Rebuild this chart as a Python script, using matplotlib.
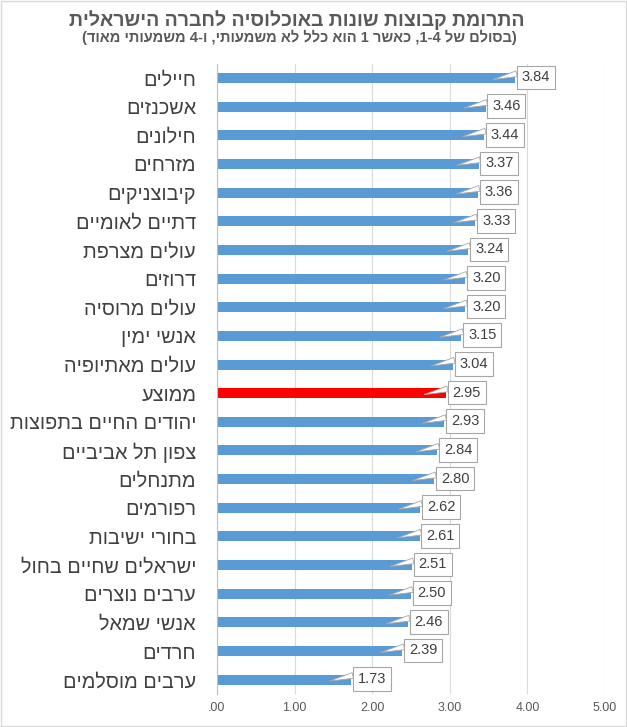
import re
import matplotlib
matplotlib.use("Agg")
import matplotlib.pyplot as plt
from matplotlib.patches import Rectangle

plt.rcParams['font.family'] = ['Liberation Sans', 'DejaVu Sans']

# data (top to bottom as in the chart)
groups = ["חיילים", "אשכנזים", "חילונים", "מזרחים", "קיבוצניקים", "דתיים לאומיים",
          "עולים מצרפת", "דרוזים", "עולים מרוסיה", "אנשי ימין", "עולים מאתיופיה",
          "ממוצע", "יהודים החיים בתפוצות", "צפון תל אביביים", "מתנחלים", "רפורמים",
          "בחורי ישיבות", "ישראלים שחיים בחול", "ערבים נוצרים", "אנשי שמאל",
          "חרדים", "ערבים מוסלמים"]
scores = [3.84, 3.46, 3.44, 3.37, 3.36, 3.33, 3.24, 3.20, 3.20, 3.15, 3.04,
          2.95, 2.93, 2.84, 2.80, 2.62, 2.61, 2.51, 2.50, 2.46, 2.39, 1.73]
highlight = "ממוצע"
x_ticks = [0, 1, 2, 3, 4, 5]
x_tick_labels = [".00", "1.00", "2.00", "3.00", "4.00", "5.00"]

title = "התרומת קבוצות שונות באוכלוסיה לחברה הישראלית"
subtitle = "(בסולם של 1-4, כאשר 1 הוא כלל לא משמעותי, ו-4 משמעותי מאוד)"


def visual(s):
    # crude bidi: reverse the RTL string, keep number runs LTR
    tokens = re.findall(r'\d+(?:[.\-]\d+)*|\D', s)
    mirror = {'(': ')', ')': '('}
    return ''.join(t if t[0].isdigit() else mirror.get(t, t) for t in reversed(tokens))


fig = plt.figure(figsize=(6.27, 7.27), dpi=100)
ax = fig.add_axes([0.346, 0.0454, 0.619, 0.867])

ypos = list(range(len(groups)))
colors = ['#FF0000' if g == highlight else '#5B9BD5' for g in groups]
ax.barh(ypos, scores, height=0.35, color=colors, zorder=2)

ax.set_xlim(0, 5)
ax.set_ylim(len(groups) - 0.5, -0.5)
ax.set_xticks(x_ticks)
ax.set_xticklabels(x_tick_labels, fontsize=9, color='#595959')
ax.set_yticks(ypos)
ax.set_yticklabels([visual(g) for g in groups], fontsize=14.3, color='#404040')
ax.tick_params(axis='both', length=0)
ax.tick_params(axis='y', pad=15)
ax.tick_params(axis='x', pad=6)
ax.grid(axis='x', color='#D9D9D9', lw=0.8, zorder=0)
for s in ['top', 'right', 'bottom']:
    ax.spines[s].set_visible(False)
ax.spines['left'].set_color('#BFBFBF')
ax.spines['left'].set_linewidth(0.8)

# callout data labels
for y, v in zip(ypos, scores):
    ax.annotate(f"{v:.2f}", xy=(v - 0.28, y + 0.05), xytext=(v + 0.27, y - 0.02),
                ha='center', va='center', fontsize=10.5, color='#404040', zorder=5,
                bbox=dict(boxstyle='square,pad=0.33', fc='white', ec='#A6A6A6', lw=0.8),
                arrowprops=dict(arrowstyle='wedge,tail_width=0.4', fc='white',
                                ec='#A6A6A6', lw=0.6, relpos=(0.0, 0.85),
                                shrinkA=0, shrinkB=0))

fig.text(0.474, 0.972, visual(title), ha='center', va='center', fontsize=14,
         fontweight='bold', color='#595959')
fig.text(0.478, 0.948, visual(subtitle), ha='center', va='center', fontsize=10.5,
         fontweight='bold', color='#595959')

fig.patches.append(Rectangle((0.001, 0.001), 0.997, 0.997, transform=fig.transFigure,
                             fill=False, ec='#D9D9D9', lw=1))

fig.savefig("out.png", dpi=100)
